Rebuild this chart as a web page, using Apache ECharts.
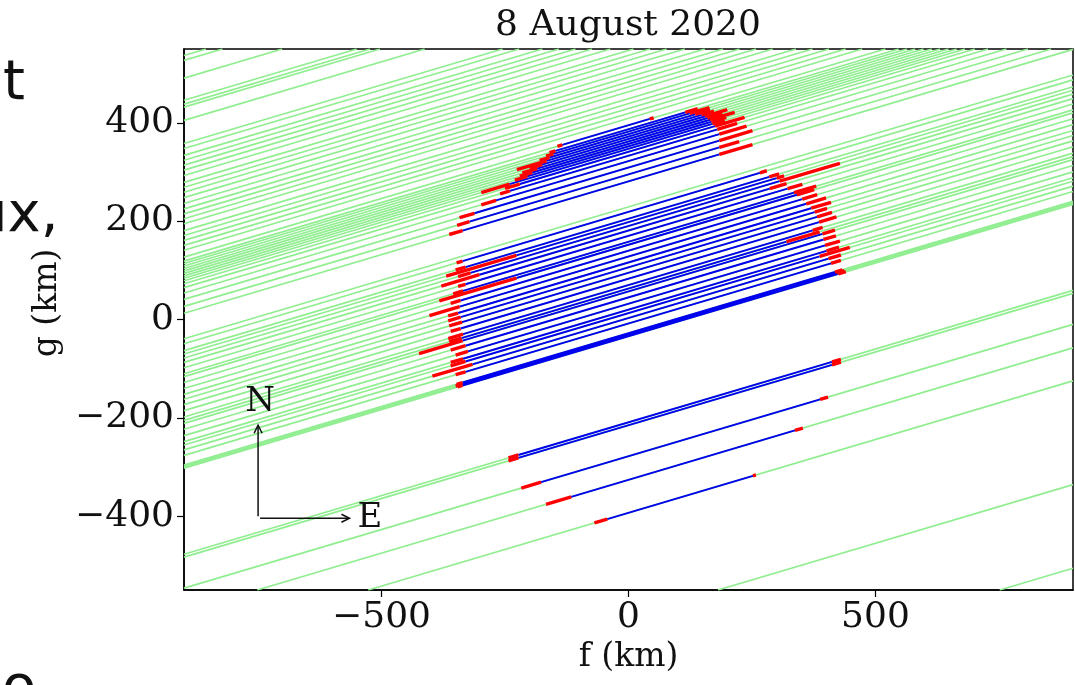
<!DOCTYPE html>
<html>
<head>
<meta charset="utf-8">
<script src="https://cdn.jsdelivr.net/npm/echarts@6/dist/echarts.min.js"></script>
<style>
  html, body { margin: 0; padding: 0; background: #fff; }
  #chart { width: 1075px; height: 685px; }
</style>
</head>
<body>
<div id="chart"></div>
<script>
// Stellar occultation chords projected on the sky plane (f, g), 8 August 2020.

const SLOPE = 0.298;                 // common chord direction, dg/df
const F_RANGE = [-900, 900];
const G_RANGE = [-550, 550];
const F_TICKS = [-500, 0, 500];
const G_TICKS = [-400, -200, 0, 200, 400];

// Negative chords: intercept g at f = 0 (km)
const missIntercepts = [
  805, 795, 759, 714, 706, 700, 673, 626, 616, 602, 592, 582, 572, 561,
  547, 537, 527, 516, 504, 493, 483, 473, 463, 449, 439, 429, 419, 409,
  229, -604, -774
];

// Positive chords: intercept (km), ingress f, egress f, ingress error, egress error (km)
const chordIntercept = [
  395, 387, 382, 377, 372, 367, 362, 357, 352, 347, 341, 333, 322, 309, 295, 281,
  219, 205, 198, 190, 181, 170, 158, 152, 140, 128, 116, 106, 95, 83, 70, 63, 57,
  45, 32, 20, 13, 3, -8, -28, -31, -34,
  -209, -215, -278, -326, -393
];
const chordIngress = [
  -134, -148, -152, -160, -166, -175, -185, -195, -205, -241, -220, -240, -268, -312, -322, -336,
  -336, -330, -227, -320, -302, -330, -335, -227, -340, -342, -345, -340, -337, -340, -335, -338, -336,
  -330, -325, -335, -330, -316, -330, -336, -338, -336,
  -223, -223, -177, -116, -43
];
const chordEgress = [
  43, 115, 124, 135, 148, 155, 160, 165, 168, 170, 175, 180, 184, 184, 184, 184,
  266, 285, 300, 306, 286, 322, 335, 341, 352, 360, 370, 377, 382, 386, 373, 320, 393,
  395, 398, 401, 387, 405, 410, 418, 422, 425,
  412, 412, 388, 337, 252
];
const ingressError = [
  10, 12, 15, 20, 60, 25, 30, 25, 25, 57, 30, 20, 30, 30, 25, 27,
  12, 20, 142, 25, 77, 15, 20, 156, 20, 61, 20, 25, 26, 20, 30, 25, 88,
  30, 25, 25, 30, 81, 20, 12, 12, 10,
  20, 20, 40, 51, 26
];
const egressError = [
  8, 25, 40, 30, 25, 45, 30, 50, 30, 25, 60, 40, 55, 67, 40, 67,
  14, 20, 15, 122, 34, 30, 45, 35, 30, 40, 40, 25, 30, 35, 20, 67, 25,
  25, 30, 25, 61, 25, 20, 15, 15, 15,
  18, 18, 16, 16, 6
];

// N / E orientation arrows (km on the sky plane)
const COMPASS = { f: -750, g: -400, len: 185 };

const SERIF = '"DejaVu Serif", serif';
const pt = (b, f) => [f, b + SLOPE * f];

// full chord line clipped to the plotted window
function clipped(b) {
  const f1 = Math.max(F_RANGE[0], (G_RANGE[0] - b) / SLOPE);
  const f2 = Math.min(F_RANGE[1], (G_RANGE[1] - b) / SLOPE);
  return f2 > f1 ? [pt(b, f1), pt(b, f2)] : null;
}

const greenData = missIntercepts.concat(chordIntercept)
  .map(clipped).filter(Boolean).map(c => ({ coords: c }));

const blueData = chordIntercept.map((b, i) => ({
  coords: [pt(b, chordIngress[i]), pt(b, chordEgress[i])]
}));

const redData = [];
chordIntercept.forEach((b, i) => {
  redData.push({ coords: [pt(b, chordIngress[i] - ingressError[i]), pt(b, chordIngress[i])] });
  redData.push({ coords: [pt(b, chordEgress[i]), pt(b, chordEgress[i] + egressError[i])] });
});

const fmt = v => (v < 0 ? '\u2212' + Math.abs(v) : String(v));

const chart = echarts.init(document.getElementById('chart'), null, { renderer: 'canvas' });

chart.setOption({
  animation: false,
  backgroundColor: '#fff',
  grid: {
    left: 184, right: 2, top: 49, bottom: 95,
    show: true, borderColor: '#000', borderWidth: 1.5, backgroundColor: 'transparent'
  },
  xAxis: {
    type: 'value', min: F_RANGE[0], max: F_RANGE[1],
    name: 'f (km)', nameLocation: 'middle', nameGap: 46,
    nameTextStyle: { fontFamily: SERIF, fontSize: 33, color: '#111' },
    axisLine: { show: true, onZero: false, lineStyle: { color: '#000', width: 1.5 } },
    axisTick: { show: true, customValues: F_TICKS, length: 7, lineStyle: { color: '#000', width: 1.2 } },
    axisLabel: { customValues: F_TICKS, formatter: fmt, fontFamily: SERIF, fontSize: 36, color: '#111', margin: 10 },
    splitLine: { show: false }
  },
  yAxis: {
    type: 'value', min: G_RANGE[0], max: G_RANGE[1],
    axisLine: { show: true, onZero: false, lineStyle: { color: '#000', width: 1.5 } },
    axisTick: { show: true, customValues: G_TICKS, length: 7, lineStyle: { color: '#000', width: 1.2 } },
    axisLabel: { customValues: G_TICKS, formatter: fmt, fontFamily: SERIF, fontSize: 36, color: '#111', margin: 10 },
    splitLine: { show: false }
  },
  graphic: [
    { type: 'text', x: 628, y: 8, style: { text: '8 August 2020', font: '36px ' + SERIF, fill: '#111', textAlign: 'center' } },
    { type: 'text', x: 47, y: 303, rotation: Math.PI / 2,
      style: { text: 'g (km)', font: '33px ' + SERIF, fill: '#111', textAlign: 'center', textVerticalAlign: 'middle' } },
    { type: 'text', x: 3, y: 56, style: { text: 't', font: '56px "DejaVu Sans"', fill: '#111' } },
    { type: 'text', x: -28, y: 188, style: { text: 'ux,', font: '56px "DejaVu Sans"', fill: '#111' } },
    { type: 'text', x: 2, y: 661, style: { text: 'o', font: '56px "DejaVu Sans"', fill: '#111' } }
  ],
  series: [
    {
      type: 'lines', coordinateSystem: 'cartesian2d', silent: true, z: 2,
      lineStyle: { color: '#90ee90', width: 1.7, opacity: 1 },
      data: greenData
    },
    {
      type: 'lines', coordinateSystem: 'cartesian2d', silent: true, z: 3,
      lineStyle: { color: '#0000ee', width: 1.9, opacity: 1 },
      data: blueData
    },
    {
      type: 'lines', coordinateSystem: 'cartesian2d', silent: true, z: 4,
      lineStyle: { color: '#ff0000', width: 3.4, opacity: 1 },
      data: redData
    },
    {
      type: 'custom', coordinateSystem: 'cartesian2d', silent: true, z: 5,
      data: [[COMPASS.f, COMPASS.g]],
      renderItem: (params, api) => {
        const o = api.coord([COMPASS.f, COMPASS.g]);
        const n = api.coord([COMPASS.f, COMPASS.g + COMPASS.len]);
        const e = api.coord([COMPASS.f + COMPASS.len, COMPASS.g]);
        const stroke = { stroke: '#111', lineWidth: 1.5, fill: null };
        const h = 8, w = 4;
        return {
          type: 'group',
          children: [
            { type: 'line', shape: { x1: o[0], y1: o[1], x2: n[0], y2: n[1] }, style: stroke },
            { type: 'polyline', shape: { points: [[n[0] - w, n[1] + h], [n[0], n[1]], [n[0] + w, n[1] + h]] }, style: stroke },
            { type: 'line', shape: { x1: o[0] + 2, y1: o[1] + 2, x2: e[0], y2: e[1] + 2 }, style: stroke },
            { type: 'polyline', shape: { points: [[e[0] - h, e[1] + 2 - w], [e[0], e[1] + 2], [e[0] - h, e[1] + 2 + w]] }, style: stroke },
            { type: 'text', x: n[0] + 2, y: n[1] - 6, style: { text: 'N', font: '34px ' + SERIF, fill: '#111', textAlign: 'center', textVerticalAlign: 'bottom' } },
            { type: 'text', x: e[0] + 8, y: e[1] + 2, style: { text: 'E', font: '34px ' + SERIF, fill: '#111', textAlign: 'left', textVerticalAlign: 'middle' } }
          ]
        };
      }
    }
  ]
});
</script>
</body>
</html>
